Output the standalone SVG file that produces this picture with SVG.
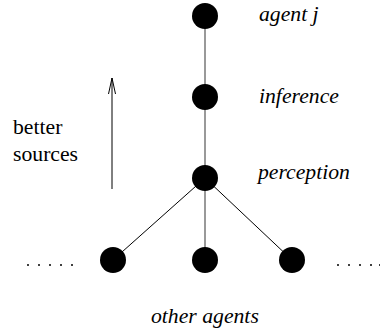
<svg xmlns="http://www.w3.org/2000/svg" width="380" height="331" viewBox="0 0 380 331">
<style>
.node{fill:#000}
.lbl{font-family:"Liberation Serif","Times New Roman","DejaVu Serif",serif;font-size:21.7px;fill:#000}
.it{font-style:italic}
.trunk{stroke:#777;stroke-width:1.5;fill:none}
.branch{stroke:#000;stroke-width:1;fill:none}
.dot{fill:#000}
</style>
<rect width="380" height="331" fill="#fff"/>
<g id="connectors">
<line class="trunk" x1="205" y1="16" x2="205" y2="260"/>
<line class="branch" x1="205" y1="178" x2="113" y2="260"/>
<line class="branch" x1="205" y1="178" x2="292" y2="260"/>
</g>
<g id="arrow">
<line x1="112" y1="189" x2="112" y2="78" stroke="#000" stroke-width="1"/>
<polyline points="108.5,94 112,78 115.5,94" fill="none" stroke="#000" stroke-width="1"/>
</g>
<g id="agent-j"><circle class="node" cx="205" cy="16" r="13"/><text class="lbl it" x="259" y="21">agent j</text></g>
<g id="inference"><circle class="node" cx="205" cy="97" r="13"/><text class="lbl it" x="259" y="103">inference</text></g>
<g id="perception"><circle class="node" cx="205" cy="178" r="13"/><text class="lbl it" x="258" y="179">perception</text></g>
<g id="agent-left"><circle class="node" cx="113" cy="260" r="13"/></g>
<g id="agent-mid"><circle class="node" cx="205" cy="260" r="13"/></g>
<g id="agent-right"><circle class="node" cx="292" cy="260" r="13"/></g>
<g id="dots-left">
<circle class="dot" cx="28" cy="265" r="1"/><circle class="dot" cx="39" cy="265" r="1"/><circle class="dot" cx="50" cy="265" r="1"/><circle class="dot" cx="61" cy="265" r="1"/><circle class="dot" cx="72" cy="265" r="1"/>
</g>
<g id="dots-right">
<circle class="dot" cx="338" cy="265" r="1"/><circle class="dot" cx="349" cy="265" r="1"/><circle class="dot" cx="360" cy="265" r="1"/><circle class="dot" cx="371" cy="265" r="1"/><circle class="dot" cx="380" cy="265" r="1"/>
</g>
<text class="lbl" x="13" y="134">better</text>
<text class="lbl" x="13" y="161">sources</text>
<text class="lbl it" x="151" y="323">other agents</text>
</svg>
